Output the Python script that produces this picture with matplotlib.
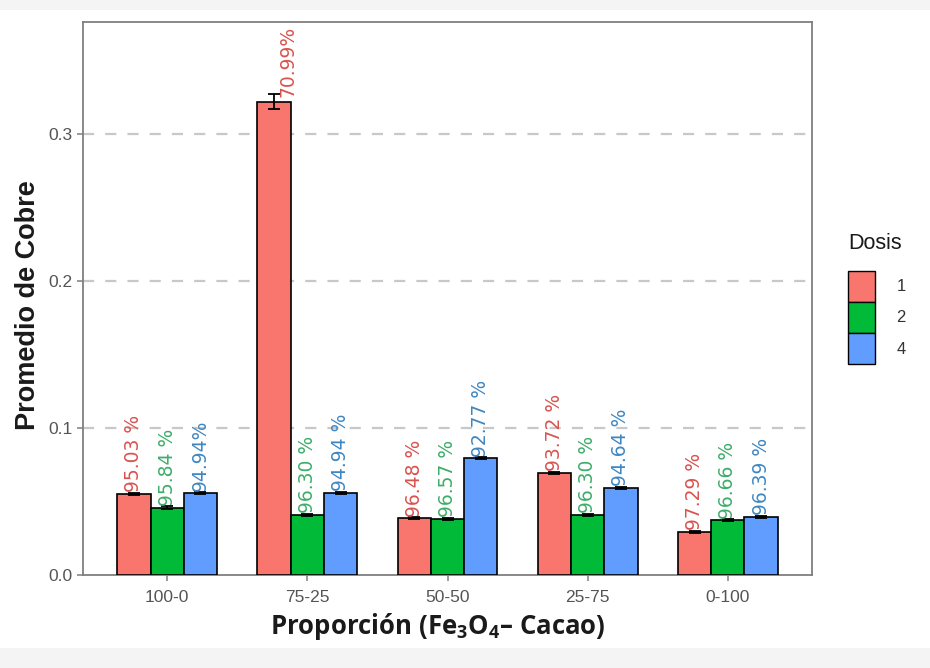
import numpy as np
import matplotlib.pyplot as plt
from matplotlib.patches import Rectangle, Patch

plt.rcParams['mathtext.fontset'] = 'custom'
plt.rcParams['mathtext.rm'] = 'Open Sans'
plt.rcParams['mathtext.bf'] = 'Open Sans:bold'

# data
proporciones = ['100-0', '75-25', '50-50', '25-75', '0-100']
dosis = ['1', '2', '4']
promedio = {
    '1': [0.0551, 0.3220, 0.0386, 0.0694, 0.0295],
    '2': [0.0458, 0.0408, 0.0383, 0.0410, 0.0372],
    '4': [0.0560, 0.0560, 0.0794, 0.0594, 0.0397],
}
error = {
    '1': [0.0010, 0.0050, 0.0006, 0.0008, 0.0006],
    '2': [0.0008, 0.0006, 0.0006, 0.0006, 0.0006],
    '4': [0.0008, 0.0008, 0.0006, 0.0008, 0.0006],
}
remocion = {
    '1': ['95.03 %', '70.99%', '96.48 %', '93.72 %', '97.29 %'],
    '2': ['95.84 %', '96.30 %', '96.57 %', '96.30 %', '96.66 %'],
    '4': ['94.94%', '94.94 %', '92.77 %', '94.64 %', '96.39 %'],
}

fill_colors = {'1': '#F8766D', '2': '#00BA38', '4': '#619CFF'}
text_colors = {'1': '#D9534F', '2': '#3DAE6A', '4': '#3F87C2'}

fig = plt.figure(figsize=(9.3, 6.68), dpi=100, facecolor='white')
# light gray bands at top and bottom of the image
fig.patches.append(Rectangle((0, 1 - 10 / 668), 1, 10 / 668, transform=fig.transFigure,
                             facecolor='#f4f4f4', edgecolor='none', zorder=-5))
fig.patches.append(Rectangle((0, 0), 1, 20 / 668, transform=fig.transFigure,
                             facecolor='#f4f4f4', edgecolor='none', zorder=-5))

ax = fig.add_axes([83 / 930, 1 - 575 / 668, (812 - 83) / 930, (575 - 22) / 668])

x = np.arange(len(proporciones))
w = 0.237
for k, d in enumerate(dosis):
    pos = x + (k - 1) * w
    vals = np.array(promedio[d])
    errs = np.array(error[d])
    ax.bar(pos, vals, width=w, color=fill_colors[d], edgecolor='black', linewidth=1.2, zorder=3)
    ax.errorbar(pos, vals, yerr=errs, fmt='none', ecolor='black', elinewidth=1.3,
                capsize=4, capthick=1.3, zorder=4)
    for i in range(len(proporciones)):
        px = pos[i]
        py = vals[i] + errs[i] + 0.0005
        if vals[i] > 0.3:
            # label nudged beside the tall bar, as in the reference
            px += 0.1
            py = vals[i] + 0.003
        ax.text(px, py, remocion[d][i], rotation=90, ha='center', va='bottom',
                fontsize=13.5, color=text_colors[d], family='DejaVu Sans', zorder=5)

ax.set_xlim(-0.6, 4.6)
ax.set_ylim(0, 0.3762)
ax.set_xticks(x)
ax.set_xticklabels(proporciones)
ax.set_yticks([0.0, 0.1, 0.2, 0.3])
ax.set_yticklabels(['0.0', '0.1', '0.2', '0.3'])
for y in [0.1, 0.2, 0.3]:
    ax.axhline(y, color='#c8c8c8', linewidth=1.6, dashes=(5, 5), zorder=1)

for sp in ax.spines.values():
    sp.set_color('#7f7f7f')
    sp.set_linewidth(1.3)
ax.tick_params(axis='both', colors='#7f7f7f', length=4, width=1.1, labelsize=12.5,
               labelcolor='#555555')
ax.tick_params(axis='x', pad=7)
for lab in ax.get_xticklabels() + ax.get_yticklabels():
    lab.set_family('Liberation Sans')

ax.set_ylabel('Promedio de Cobre', fontsize=19.5, fontweight='bold', family='Liberation Sans',
              color='#1a1a1a')
ax.yaxis.set_label_coords(-0.058, 0.488)
ax.set_xlabel(r'Proporción (Fe$_\mathbf{3}$O$_\mathbf{4}$– Cacao)', fontsize=18.5,
              fontweight='bold', family='Open Sans', color='#1a1a1a')
ax.xaxis.set_label_coords(0.486, -0.066)

handles = [Patch(facecolor=fill_colors[d], edgecolor='black', linewidth=1.0) for d in dosis]
leg = ax.legend(handles, dosis, title='Dosis', loc='center left', bbox_to_anchor=(1.036, 0.5),
                frameon=False, fontsize=12, title_fontsize=15.5, handlelength=1.6,
                handleheight=2.5, labelspacing=0.0, handletextpad=1.3, borderaxespad=0.2)
leg.get_title().set_family('Liberation Sans')
leg.get_title().set_color('#1a1a1a')
leg._legend_box.align = 'left'
leg._legend_box.sep = 12
for t in leg.get_texts():
    t.set_family('Liberation Sans')
    t.set_color('#333333')

fig.savefig('out.png', dpi=100, facecolor=fig.get_facecolor())
